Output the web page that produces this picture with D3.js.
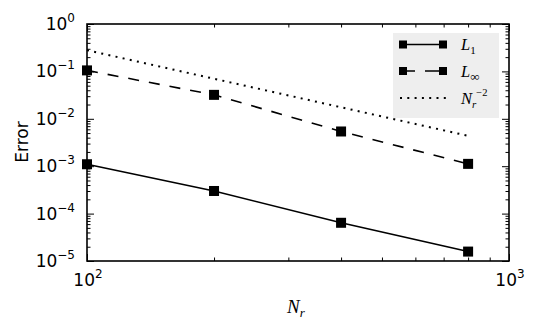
<!DOCTYPE html>
<html><head><meta charset="utf-8">
<script src="https://cdn.jsdelivr.net/npm/d3@7"></script>
<style>body{margin:0;background:#fff}svg{display:block}</style>
</head><body>
<script>
// ---- data ----
const Nr = [100, 200, 400, 800];
const errL1 = [1.1e-3, 3.0e-4, 6.4e-5, 1.58e-5];
const errLinf = [0.105, 0.032, 5.4e-3, 1.12e-3];
const refN2 = [0.28, 0.07, 0.0175, 0.004375];
const yTickExps = [0, -1, -2, -3, -4, -5];
const xTickExps = [2, 3];

const W = 540, H = 331;
const L = 87, R = 509, T = 24, B = 261;
const svg = d3.select("body").append("svg").attr("width", W).attr("height", H);

const x = d3.scaleLog().domain([100, 1000]).range([L, R]);
const y = d3.scaleLog().domain([1e-5, 1]).range([B, T]);

const yMajor = yTickExps.map(e => Math.pow(10, e));
const yMinor = [];
for (let e = -5; e < 0; e++) for (let k = 2; k <= 9; k++) yMinor.push(k * Math.pow(10, e));
const xMajor = xTickExps.map(e => Math.pow(10, e));
const xMinor = [];
for (let k = 2; k <= 9; k++) xMinor.push(k * 100);

function ax(gen, tx, ty, vals, size) {
  const g = svg.append("g").attr("transform", `translate(${tx},${ty})`)
    .call(gen.tickValues(vals).tickSize(-size).tickFormat(""));
  g.select(".domain").remove();
  g.selectAll("line").attr("stroke", "#000").attr("stroke-width", 1);
}
ax(d3.axisLeft(y), L, 0, yMajor, 7);
ax(d3.axisLeft(y), L, 0, yMinor, 3.5);
ax(d3.axisRight(y), R, 0, yMajor, 7);
ax(d3.axisRight(y), R, 0, yMinor, 3.5);
ax(d3.axisBottom(x), 0, B, xMajor, 7);
ax(d3.axisBottom(x), 0, B, xMinor, 3.5);
ax(d3.axisTop(x), 0, T, xMajor, 7);
ax(d3.axisTop(x), 0, T, xMinor, 3.5);

// frame
svg.append("rect").attr("x", L).attr("y", T).attr("width", R - L).attr("height", B - T)
  .attr("fill", "none").attr("stroke", "#000").attr("stroke-width", 1.6);

// tick labels
const sans = "DejaVu Sans, sans-serif";
yTickExps.forEach((e, i) => {
  const t = svg.append("text").attr("x", 75).attr("y", y(yMajor[i]) + 6)
    .attr("text-anchor", "end").attr("font-family", sans).attr("font-size", 17).attr("fill", "#000");
  t.append("tspan").text("10");
  t.append("tspan").attr("font-size", 12).attr("dy", -8).text(e === 0 ? "0" : "\u2212" + (-e));
});
xTickExps.forEach((e, i) => {
  const t = svg.append("text").attr("x", x(xMajor[i]) + 1).attr("y", 286)
    .attr("text-anchor", "middle").attr("font-family", sans).attr("font-size", 17).attr("fill", "#000");
  t.append("tspan").text("10");
  t.append("tspan").attr("font-size", 12).attr("dy", -8).text(String(e));
});

// axis labels
svg.append("text").attr("transform", "translate(28,142) rotate(-90)")
  .attr("text-anchor", "middle").attr("font-family", sans).attr("font-size", 17).text("Error");
const serif = "Liberation Serif, DejaVu Serif, serif";
{
  const t = svg.append("text").attr("x", 287).attr("y", 313)
    .attr("font-family", serif).attr("font-style", "italic").attr("font-size", 19);
  t.append("tspan").text("N");
  t.append("tspan").attr("font-size", 13).attr("dy", 4).text("r");
}

// series
const line = d3.line().x(d => x(d[0])).y(d => y(d[1]));
const plotG = svg.append("g");
plotG.append("path").datum(Nr.map((n, i) => [n, refN2[i]])).attr("d", line)
  .attr("fill", "none").attr("stroke", "#000").attr("stroke-width", 2).attr("stroke-dasharray", "2,5.3");
plotG.append("path").datum(Nr.map((n, i) => [n, errLinf[i]])).attr("d", line)
  .attr("fill", "none").attr("stroke", "#000").attr("stroke-width", 1.6).attr("stroke-dasharray", "11,10");
plotG.append("path").datum(Nr.map((n, i) => [n, errL1[i]])).attr("d", line)
  .attr("fill", "none").attr("stroke", "#000").attr("stroke-width", 1.6);
const ms = 10;
[errL1, errLinf].forEach(arr => {
  plotG.selectAll(null).data(Nr.map((n, i) => [n, arr[i]])).enter().append("rect")
    .attr("x", d => x(d[0]) - ms / 2).attr("y", d => y(d[1]) - ms / 2)
    .attr("width", ms).attr("height", ms).attr("fill", "#000");
});

// legend
const lg = svg.append("g");
lg.append("rect").attr("x", 393).attr("y", 33).attr("width", 106).attr("height", 85).attr("fill", "#eeeeee");
const rows = [
  {y: 44.5, dash: null, marker: true, label: ["L", "1", null]},
  {y: 71, dash: "15,10", marker: true, label: ["L", "\u221E", null]},
  {y: 98, dash: "2,5.3", marker: false, label: ["N", "r", "\u22122"]}
];
rows.forEach(r => {
  const ln = lg.append("line").attr("x1", 400).attr("x2", 446).attr("y1", r.y).attr("y2", r.y)
    .attr("stroke", "#000").attr("stroke-width", r.marker ? 1.6 : 2);
  if (r.dash) ln.attr("stroke-dasharray", r.dash);
  if (r.marker) {
    [403, 443].forEach(cx => lg.append("rect").attr("x", cx - 4).attr("y", r.y - 4)
      .attr("width", 8).attr("height", 8).attr("fill", "#000"));
  }
  const t = lg.append("text").attr("x", 461).attr("y", r.y + 5.5)
    .attr("font-family", serif).attr("font-style", "italic").attr("font-size", 16.5);
  t.append("tspan").text(r.label[0]);
  const sub = t.append("tspan").attr("font-size", 11).attr("dy", 4).text(r.label[1]);
  if (r.label[1] === "1") sub.attr("font-style", "normal");
  if (r.label[1] === "\u221E") sub.attr("font-style", "normal").attr("font-size", 13);
  if (r.label[2]) t.append("tspan").attr("font-size", 10.5).attr("dy", -12).attr("font-style", "normal").text(r.label[2]);
});
</script>
</body></html>
